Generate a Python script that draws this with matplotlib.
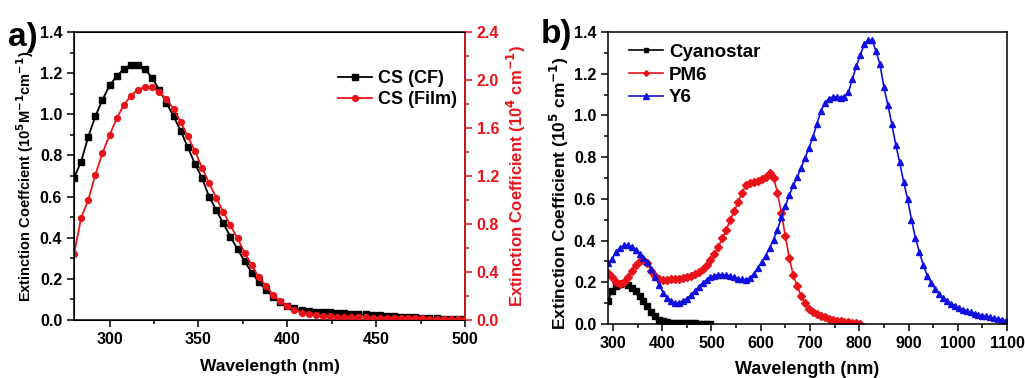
import numpy as np
import matplotlib
matplotlib.use("Agg")
import matplotlib.pyplot as plt
from matplotlib.ticker import MultipleLocator, FormatStrFormatter

plt.rcParams['font.family'] = ['Liberation Sans', 'DejaVu Sans']
plt.rcParams['font.weight'] = 'bold'

# ---- panel a data (4 nm grid from 280 nm) ----
a_start, a_step = 280, 4
cs_cf = [0.69, 0.77, 0.89, 0.99, 1.07, 1.14, 1.185, 1.22, 1.24, 1.24,
         1.22, 1.175, 1.12, 1.055, 0.99, 0.92, 0.84, 0.76, 0.69, 0.60,
         0.535, 0.47, 0.405, 0.345, 0.285, 0.23, 0.185, 0.145, 0.113, 0.088,
         0.068, 0.056, 0.048, 0.044, 0.041, 0.039, 0.037, 0.035, 0.033, 0.031,
         0.029, 0.027, 0.025, 0.023, 0.021, 0.019, 0.017, 0.015, 0.013, 0.011,
         0.009, 0.008, 0.006, 0.005, 0.004, 0.003]
cs_film = [0.55, 0.85, 1.00, 1.21, 1.39, 1.54, 1.68, 1.79, 1.87, 1.92,
           1.94, 1.94, 1.90, 1.84, 1.76, 1.65, 1.53, 1.41, 1.27, 1.14,
           1.02, 0.90, 0.79, 0.68, 0.56, 0.455, 0.355, 0.285, 0.21, 0.155,
           0.118, 0.085, 0.062, 0.048, 0.040, 0.035, 0.031, 0.028, 0.026, 0.024,
           0.022, 0.021, 0.020, 0.019, 0.018, 0.017, 0.016, 0.015, 0.014, 0.013,
           0.012, 0.011, 0.010, 0.009, 0.008, 0.007]

# ---- panel b data (8 nm grid from 290 nm) ----
b_start, b_step = 290, 8
cyanostar = [0.11, 0.16, 0.18, 0.19, 0.195, 0.187, 0.173, 0.157, 0.135, 0.112,
             0.086, 0.058, 0.036, 0.021, 0.014, 0.010, 0.007, 0.006, 0.005, 0.004,
             0.004, 0.003, 0.003, 0.002, 0.002, 0.002, 0.001]
pm6 = [0.245, 0.225, 0.200, 0.190, 0.200, 0.225, 0.255, 0.285, 0.300, 0.305,
       0.290, 0.255, 0.230, 0.218, 0.212, 0.212, 0.214, 0.216, 0.217, 0.220,
       0.225, 0.230, 0.238, 0.250, 0.265, 0.285, 0.305, 0.335, 0.370, 0.410,
       0.450, 0.500, 0.540, 0.585, 0.630, 0.665, 0.678, 0.682, 0.685, 0.695,
       0.705, 0.722, 0.700, 0.630, 0.530, 0.420, 0.315, 0.235, 0.180, 0.135,
       0.100, 0.072, 0.058, 0.048, 0.040, 0.034, 0.026, 0.020, 0.016, 0.013,
       0.011, 0.008, 0.006, 0.004, 0.002]
y6 = [0.290, 0.310, 0.345, 0.365, 0.377, 0.378, 0.370, 0.355, 0.335, 0.315,
      0.295, 0.265, 0.225, 0.185, 0.150, 0.125, 0.108, 0.100, 0.102, 0.110,
      0.122, 0.138, 0.158, 0.178, 0.196, 0.212, 0.224, 0.232, 0.236, 0.236,
      0.233, 0.228, 0.223, 0.218, 0.214, 0.212, 0.220, 0.240, 0.268, 0.297,
      0.328, 0.365, 0.405, 0.452, 0.512, 0.565, 0.618, 0.664, 0.705, 0.748,
      0.796, 0.845, 0.897, 0.960, 1.020, 1.060, 1.080, 1.088, 1.090, 1.085,
      1.090, 1.110, 1.175, 1.235, 1.290, 1.340, 1.362, 1.360, 1.308, 1.245,
      1.135, 1.050, 0.960, 0.860, 0.775, 0.682, 0.600, 0.500, 0.412, 0.345,
      0.282, 0.232, 0.198, 0.170, 0.146, 0.126, 0.110, 0.097, 0.086, 0.077,
      0.069, 0.062, 0.056, 0.050, 0.045, 0.040, 0.036, 0.032, 0.028, 0.024,
      0.020, 0.016]

RED = '#e8141a'
BLUE = '#1010e0'


def grid(start, step, vals):
    return start + step * np.arange(len(vals))


def style_ticks(ax, color='black'):
    ax.tick_params(which='both', direction='out', labelsize=11.5, width=1.1,
                   colors=color)
    ax.tick_params(which='major', length=5)
    ax.tick_params(which='minor', length=3)
    for lab in ax.get_xticklabels() + ax.get_yticklabels():
        lab.set_fontweight('bold')


fig = plt.figure(figsize=(10.25, 3.78), dpi=100)

# ---------------- panel a ----------------
ax1 = fig.add_axes([0.0722, 0.1534, 0.3815, 0.762])
l1, = ax1.plot(grid(a_start, a_step, cs_cf), cs_cf, '-s', color='black',
               lw=1.3, ms=4.2, label='CS (CF)')
ax1.set_xlim(280, 500)
ax1.set_ylim(0, 1.4)
ax1.xaxis.set_major_locator(MultipleLocator(50))
ax1.xaxis.set_minor_locator(MultipleLocator(25))
ax1.yaxis.set_major_locator(MultipleLocator(0.2))
ax1.yaxis.set_minor_locator(MultipleLocator(0.1))
ax1.yaxis.set_major_formatter(FormatStrFormatter('%.1f'))
ax1.set_xlabel('Wavelength (nm)', fontsize=12.5, fontweight='bold', labelpad=9)
ax1.set_ylabel(r'Extinction Coeffcient (10$^{\mathbf{5}}$M$^{\mathbf{-1}}$cm$^{\mathbf{-1}}$)',
               fontsize=10.5, fontweight='bold', labelpad=3)
style_ticks(ax1)
for s in ax1.spines.values():
    s.set_linewidth(1.1)

ax2 = ax1.twinx()
l2, = ax2.plot(grid(a_start, a_step, cs_film), cs_film, '-o', color=RED,
               lw=1.3, ms=4.2, label='CS (Film)')
ax2.set_ylim(0, 2.4)
ax2.yaxis.set_major_locator(MultipleLocator(0.4))
ax2.yaxis.set_minor_locator(MultipleLocator(0.2))
ax2.yaxis.set_major_formatter(FormatStrFormatter('%.1f'))
ax2.set_ylabel(r'Extinction Coefficient (10$^{\mathbf{4}}$ cm$^{\mathbf{-1}}$)',
               fontsize=12, fontweight='bold', color=RED, labelpad=4)
style_ticks(ax2, RED)
ax2.spines['right'].set_color(RED)
ax2.spines['right'].set_linewidth(1.1)
ax1.legend(handles=[l1, l2], loc='upper right', bbox_to_anchor=(1.02, 0.925),
           frameon=False, prop={'weight': 'bold', 'size': 13},
           handlelength=1.9, handletextpad=0.3, labelspacing=0.25)

fig.text(0.008, 0.878, 'a)', fontsize=24, fontweight='bold')

# ---------------- panel b ----------------
ax3 = fig.add_axes([0.5932, 0.1429, 0.3893, 0.7725])
ax3.plot(grid(b_start, b_step, cyanostar), cyanostar, '-s', color='black',
         lw=1.2, ms=3.8, label='Cyanostar')
ax3.plot(grid(b_start, b_step, pm6), pm6, '-D', color=RED,
         lw=1.2, ms=3.6, label='PM6')
ax3.plot(grid(b_start, b_step, y6), y6, '-^', color=BLUE,
         lw=1.2, ms=5.0, label='Y6')
ax3.set_xlim(290, 1100)
ax3.set_ylim(0, 1.4)
ax3.xaxis.set_major_locator(MultipleLocator(100))
ax3.xaxis.set_minor_locator(MultipleLocator(50))
ax3.yaxis.set_major_locator(MultipleLocator(0.2))
ax3.yaxis.set_minor_locator(MultipleLocator(0.1))
ax3.yaxis.set_major_formatter(FormatStrFormatter('%.1f'))
ax3.set_xlabel('Wavelength (nm)', fontsize=13, fontweight='bold', labelpad=7)
ax3.set_ylabel(r'Extinction Coefficient (10$^{\mathbf{5}}$ cm$^{\mathbf{-1}}$)',
               fontsize=12.5, fontweight='bold')
ax3.yaxis.set_label_coords(-0.093, 0.45)
style_ticks(ax3)
for s in ax3.spines.values():
    s.set_linewidth(1.1)
ax3.legend(loc='upper left', frameon=False, prop={'weight': 'bold', 'size': 13.5},
           handlelength=1.8, handletextpad=0.3, labelspacing=0.3,
           markerscale=0.8, borderaxespad=0.0, bbox_to_anchor=(0.035, 0.985))

fig.text(0.528, 0.885, 'b)', fontsize=24, fontweight='bold')

fig.savefig('out.png', dpi=100)
